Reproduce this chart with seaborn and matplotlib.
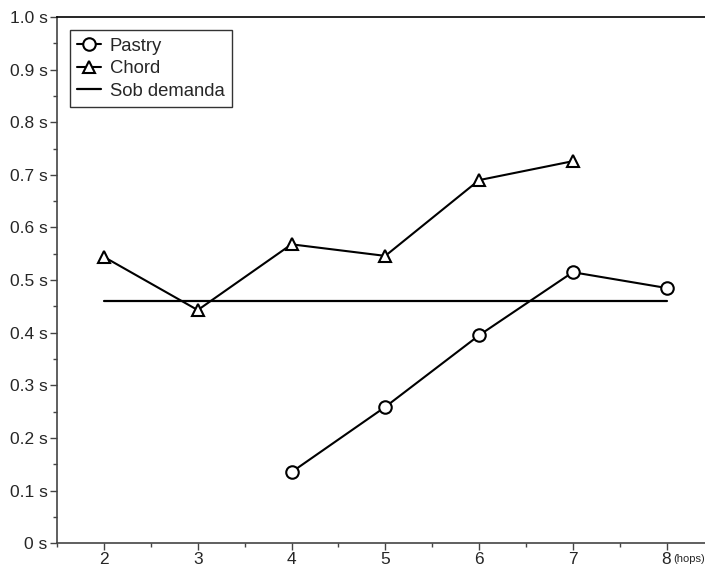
import numpy as np
import pandas as pd
import matplotlib
matplotlib.use("Agg")
import matplotlib.pyplot as plt
from matplotlib.ticker import MultipleLocator, FuncFormatter
import seaborn as sns

# data
pastry_hops = [4, 5, 6, 7, 8]
pastry_time = [0.135, 0.259, 0.395, 0.515, 0.485]
chord_hops = [2, 3, 4, 5, 6, 7]
chord_time = [0.544, 0.443, 0.568, 0.546, 0.690, 0.726]
demand_hops = [2, 8]
demand_time = [0.46, 0.46]

sns.set_style("ticks")
plt.rcParams["font.family"] = ["Liberation Sans", "DejaVu Sans"]

fig = plt.figure(figsize=(7.05, 5.67), dpi=100)
ax = fig.add_axes([0.081, 0.042, 0.919, 0.928])

df_p = pd.DataFrame({"hops": pastry_hops, "t": pastry_time})
df_c = pd.DataFrame({"hops": chord_hops, "t": chord_time})
df_d = pd.DataFrame({"hops": demand_hops, "t": demand_time})

sns.lineplot(data=df_p, x="hops", y="t", ax=ax, color="black", lw=1.5,
             marker="o", markersize=9, markerfacecolor="white",
             markeredgecolor="black", markeredgewidth=1.5, label="Pastry")
sns.lineplot(data=df_c, x="hops", y="t", ax=ax, color="black", lw=1.5,
             marker="^", markersize=8, markerfacecolor="white",
             markeredgecolor="black", markeredgewidth=1.5, label="Chord")
sns.lineplot(data=df_d, x="hops", y="t", ax=ax, color="black", lw=1.6,
             label="Sob demanda")

ax.set_ylim(0, 1.0)
ax.set_xticks([2, 3, 4, 5, 6, 7, 8])
ax.xaxis.set_minor_locator(MultipleLocator(0.5))
ax.yaxis.set_major_locator(MultipleLocator(0.1))
ax.yaxis.set_minor_locator(MultipleLocator(0.05))
ax.yaxis.set_major_formatter(FuncFormatter(
    lambda v, p: "0 s" if abs(v) < 1e-9 else f"{v:.1f} s"))
ax.xaxis.set_major_formatter(FuncFormatter(lambda v, p: f"{v:.0f}"))
ax.set_xlim(1.5, 8.41)
ax.set_xlabel("")
ax.set_ylabel("")
ax.tick_params(axis="both", which="major", direction="out", length=5,
               width=1, labelsize=12.5, color="#444444")
ax.tick_params(axis="x", which="major", pad=1.5)
ax.tick_params(axis="y", which="major", pad=2)
ax.tick_params(axis="both", which="minor", direction="out", length=3,
               width=1, color="#444444")

for s in ["left", "bottom", "top"]:
    ax.spines[s].set_visible(True)
    ax.spines[s].set_linewidth(1.2)
ax.spines["left"].set_color("#444444")
ax.spines["bottom"].set_color("#444444")
ax.spines["top"].set_color("black")
ax.spines["right"].set_visible(False)

# small axis note right of the last tick, clipped by the figure edge as in the original
ax.text(8.07, -0.03, "(hops)", transform=ax.get_xaxis_transform(),
        ha="left", va="center", fontsize=8)

leg = ax.legend(loc="upper left", bbox_to_anchor=(0.02, 0.975),
                frameon=True, fancybox=False, fontsize=13.3,
                handlelength=1.3, handletextpad=0.45, borderpad=0.4,
                labelspacing=0.3, borderaxespad=0)
leg.get_frame().set_edgecolor("black")
leg.get_frame().set_linewidth(1.0)

fig.savefig("out.png", dpi=100)
